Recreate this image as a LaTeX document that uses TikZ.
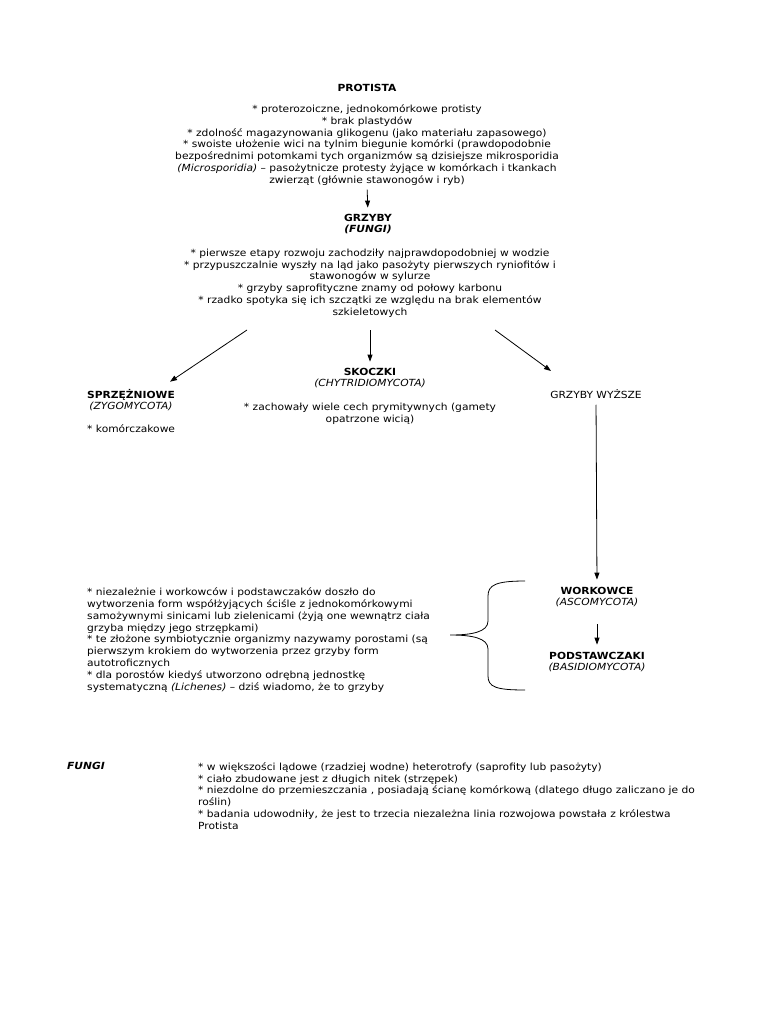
\documentclass[tikz,border=0pt]{standalone}
\usepackage{fontspec}
\setmainfont{DejaVu Sans}[FakeStretch=1.09]
\usetikzlibrary{positioning, arrows.meta}

\tikzset{
	txt/.style={inner sep=0pt, align=center, font=\fontsize{9.8}{11.8}\selectfont},
	ltxt/.style={txt, align=left},
	arr/.style={-{Triangle[length=7pt,width=5pt]}, line width=0.8pt}
}

\begin{document}
\begin{tikzpicture}[x=1pt, y=-1pt]
	
	% page
	\fill[white] (0,0) rectangle (768,1024);
	
	% Protista
	\node[txt] (protista) at (367,88) {\textbf{PROTISTA}};
	\node[txt] (protistatxt) at (367,145) {* proterozoiczne, jednokomórkowe protisty\\
		* brak plastydów\\
		* zdolność magazynowania glikogenu (jako materiału zapasowego)\\
		* swoiste ułożenie wici na tylnim biegunie komórki (prawdopodobnie\\
		bezpośrednimi potomkami tych organizmów są dzisiejsze mikrosporidia\\
		\textit{(Microsporidia)} – pasożytnicze protesty żyjące w komórkach i tkankach\\
		zwierząt (głównie stawonogów i ryb)};
	
	% Grzyby
	\node[txt] (grzyby) at (368,224) {\textbf{GRZYBY}\\\textbf{\textit{(FUNGI)}}};
	\node[txt] (grzybytxt) at (370,283) {* pierwsze etapy rozwoju zachodziły najprawdopodobniej w wodzie\\
		* przypuszczalnie wyszły na ląd jako pasożyty pierwszych ryniofitów i\\
		stawonogów w sylurze\\
		* grzyby saprofityczne znamy od połowy karbonu\\
		* rzadko spotyka się ich szczątki ze względu na brak elementów\\
		szkieletowych};
	
	% three groups
	\node[txt, anchor=west] (spr) at (87,400) {\textbf{SPRZĘŻNIOWE}\\\textit{(ZYGOMYCOTA)}};
	\node[ltxt, anchor=west] (sprtxt) at (87,429) {* komórczakowe};
	\node[txt] (skoczki) at (370,378) {\textbf{SKOCZKI}\\\textit{(CHYTRIDIOMYCOTA)}};
	\node[txt] (skoczkitxt) at (370,414) {* zachowały wiele cech prymitywnych (gamety\\opatrzone wicią)};
	\node[txt] (wyzsze) at (596,394) {GRZYBY WYŻSZE};
	
	% higher fungi
	\node[txt] (work) at (597,597) {\textbf{WORKOWCE}\\\textit{(ASCOMYCOTA)}};
	\node[txt] (podst) at (597,662) {\textbf{PODSTAWCZAKI}\\\textit{(BASIDIOMYCOTA)}};
	
	% lichens
	\node[ltxt, anchor=west] (porosty) at (87,640) {* niezależnie i workowców i podstawczaków doszło do\\
		wytworzenia form współżyjących ściśle z jednokomórkowymi\\
		samożywnymi sinicami lub zielenicami (żyją one wewnątrz ciała\\
		grzyba między jego strzępkami)\\
		* te złożone symbiotycznie organizmy nazywamy porostami (są\\
		pierwszym krokiem do wytworzenia przez grzyby form\\
		autotroficznych\\
		* dla porostów kiedyś utworzono odrębną jednostkę\\
		systematyczną \textit{(Lichenes)} – dziś wiadomo, że to grzyby};
	
	% summary
	\node[txt, anchor=west] (fungi) at (67,766) {\textbf{\textit{FUNGI}}};
	\node[ltxt, anchor=west] (fungitxt) at (198,796) {* w większości lądowe (rzadziej wodne) heterotrofy (saprofity lub pasożyty)\\
		* ciało zbudowane jest z długich nitek (strzępek)\\
		* niezdolne do przemieszczania , posiadają ścianę komórkową (dlatego długo zaliczano je do\\
		roślin)\\
		* badania udowodniły, że jest to trzecia niezależna linia rozwojowa powstała z królestwa\\
		Protista};
	
	% arrows
	\coordinate (fl) at (247,330);
	\coordinate (fm) at (370,330);
	\coordinate (fr) at (495,330);
	\coordinate (frend) at (551,371);
	\draw[arr, shorten <=4pt, shorten >=6pt] (protistatxt.south) -- (grzyby.north);
	\draw[arr] (fl) -- ([shift={(-5pt,7pt)}]spr.north east);
	\draw[arr, shorten >=6pt] (fm) -- (skoczki.north);
	\draw[arr] (fr) -- (frend);
	\draw[arr, shorten <=6pt, shorten >=7pt] (wyzsze.south) -- (work.north);
	\draw[arr, shorten <=17pt, shorten >=7pt] (work.south) -- (podst.north);
	
	% brace
	\coordinate (br) at (450,635);
	\draw[line width=0.8pt] (525,581) .. controls (496,581) and (488,585) .. (488,596) -- (488,621)
		.. controls (488,632) and (472,635) .. (br)
		.. controls (472,635) and (488,638) .. (488,649) -- (488,676)
		.. controls (488,687) and (496,690) .. (525,690);
	
\end{tikzpicture}
\end{document}
